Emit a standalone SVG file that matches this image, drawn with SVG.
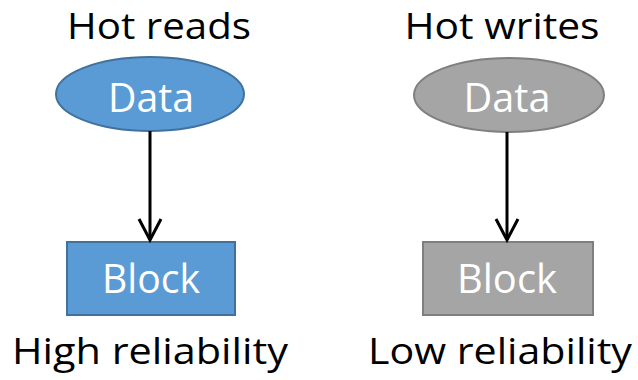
<svg xmlns="http://www.w3.org/2000/svg" width="638" height="380" viewBox="0 0 638 380">
<style>
.lbl{font-family:"Open Sans","Liberation Sans",sans-serif;font-size:36px;fill:#000;text-anchor:middle}
.in{font-family:"Open Sans","Liberation Sans",sans-serif;font-size:40px;fill:#fff;text-anchor:middle}
.blue{fill:#5B9BD5;stroke:#41719C;stroke-width:2}
.gray{fill:#A5A5A5;stroke:#7F7F7F;stroke-width:2}
.conn{stroke:#000;stroke-width:3;fill:none}
</style>
<rect width="638" height="380" fill="#fff"/>
<g id="title-left"><text class="lbl" x="159" y="39" textLength="184" lengthAdjust="spacingAndGlyphs">Hot reads</text></g>
<g id="title-right"><text class="lbl" x="502" y="39" textLength="195" lengthAdjust="spacingAndGlyphs">Hot writes</text></g>
<g id="data-left"><ellipse class="blue" cx="150" cy="94" rx="94" ry="37"/><text class="in" x="151" y="112" textLength="86" lengthAdjust="spacingAndGlyphs">Data</text></g>
<g id="data-right"><ellipse class="gray" cx="509" cy="95" rx="95" ry="37"/><text class="in" x="507" y="112" textLength="87" lengthAdjust="spacingAndGlyphs">Data</text></g>
<g id="block-left"><rect class="blue" x="67" y="242" width="168" height="73"/><text class="in" x="151" y="293" textLength="98" lengthAdjust="spacingAndGlyphs">Block</text></g>
<g id="block-right"><rect class="gray" x="423" y="242" width="170" height="73"/><text class="in" x="507" y="293" textLength="100" lengthAdjust="spacingAndGlyphs">Block</text></g>
<g id="connectors">
<line class="conn" x1="150" y1="131" x2="150" y2="240"/>
<polyline class="conn" points="139,219 150,240 161,219"/>
<line class="conn" x1="507" y1="132" x2="507" y2="240"/>
<polyline class="conn" points="496,219 507,240 518,219"/>
</g>
<g id="foot-left"><text class="lbl" x="150" y="364" textLength="276" lengthAdjust="spacingAndGlyphs">High reliability</text></g>
<g id="foot-right"><text class="lbl" x="500" y="364" textLength="264" lengthAdjust="spacingAndGlyphs">Low reliability</text></g>
</svg>
